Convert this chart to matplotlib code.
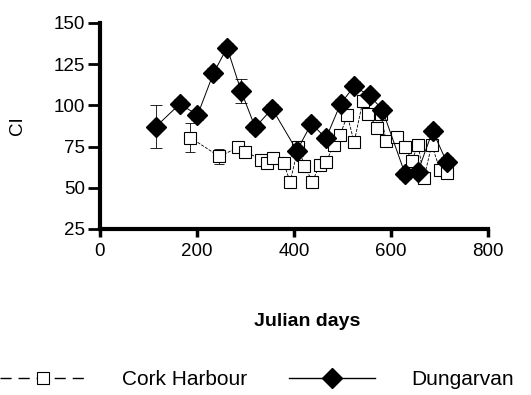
import matplotlib.pyplot as plt
from matplotlib.lines import Line2D

plt.rcParams["font.family"] = ["Liberation Sans", "DejaVu Sans"]

# Cork Harbour (open squares)
cork_days = [186, 246, 285, 299, 333, 345, 357, 379, 392, 409, 421, 438, 453,
             466, 482, 495, 510, 524, 542, 553, 572, 579, 590, 612, 629, 643,
             656, 668, 684, 701, 715]
cork_ci = [80.5, 69, 74.5, 72, 67, 65, 68, 65, 53.5, 75, 63.5, 53.7, 64,
           65.5, 76, 82, 94, 77.6, 102.7, 95, 86, 94.6, 78.4, 81, 75, 66.5,
           76, 56, 76, 61, 58.8]
cork_err = [9, 4.5, 3, 3, 3, 3, 3, 3, 3, 3, 3, 3, 3, 3, 3, 3, 3, 3, 3, 3,
            3, 3, 3, 3, 3, 3, 3, 3, 3, 3, 3]

# Dungarvan (filled diamonds)
dung_days = [115, 165, 201, 234, 262, 291, 320, 355, 406, 436, 466, 496,
             524, 556, 582, 629, 655, 686, 715]
dung_ci = [87, 101, 94, 119.5, 135, 108.7, 86.7, 98, 72.5, 89, 80, 101,
           111.5, 106, 97.5, 58.5, 59.5, 84.5, 65.5]
dung_err = [13, 3, 3, 3, 3, 7.5, 3, 3, 3, 3, 3, 3, 3, 3, 3, 3, 3, 3, 3]

x_ticks = [0, 200, 400, 600, 800]
y_ticks = [25, 50, 75, 100, 125, 150]

fig = plt.figure(figsize=(5.31, 3.95), dpi=100)
ax = fig.add_axes([0.1883, 0.4203, 0.7307, 0.5215])

ax.errorbar(cork_days, cork_ci, yerr=cork_err, fmt="none", ecolor="black",
            elinewidth=0.6, capsize=3.5, capthick=0.6, zorder=2)
ax.plot(cork_days, cork_ci, linestyle="--", color="black", linewidth=0.6,
        marker="s", markersize=8, markerfacecolor="white",
        markeredgecolor="black", markeredgewidth=0.8, zorder=3)

ax.errorbar(dung_days, dung_ci, yerr=dung_err, fmt="none", ecolor="black",
            elinewidth=0.6, capsize=4.5, capthick=0.6, zorder=2)
ax.plot(dung_days, dung_ci, linestyle="-", color="black", linewidth=0.7,
        marker="D", markersize=10, markerfacecolor="black",
        markeredgecolor="black", zorder=4)

ax.set_xlim(0, 800)
ax.set_ylim(25, 150)
ax.set_xticks(x_ticks)
ax.set_yticks(y_ticks)

ax.spines["top"].set_visible(False)
ax.spines["right"].set_visible(False)
ax.spines["left"].set_linewidth(3)
ax.spines["bottom"].set_linewidth(3)
ax.tick_params(axis="y", direction="out", length=9, width=2, labelsize=13.5, pad=2)
ax.tick_params(axis="x", direction="out", length=6, width=2.5, labelsize=13.5, pad=4)

ax.set_ylabel("CI", fontsize=13.5, labelpad=20)
fig.text(0.578, 1 - 322 / 395, "Julian days", ha="center", va="center",
         fontsize=14, fontweight="bold")

handles = [
    Line2D([0], [0], color="black", linewidth=1.0, dashes=(8, 5), marker="s",
           markersize=9, markerfacecolor="white", markeredgecolor="black",
           markeredgewidth=0.8, label="Cork Harbour"),
    Line2D([0], [0], linestyle="-", color="black", linewidth=1.0, marker="D",
           markersize=10, markerfacecolor="black", label="Dungarvan"),
]
fig.legend(handles=handles, loc="center", bbox_to_anchor=(0.484, 0.038),
           ncol=2, frameon=False, fontsize=15, handlelength=4.1,
           handletextpad=1.75, columnspacing=2.0, borderpad=0, borderaxespad=0)

fig.savefig("out.png", dpi=100)
